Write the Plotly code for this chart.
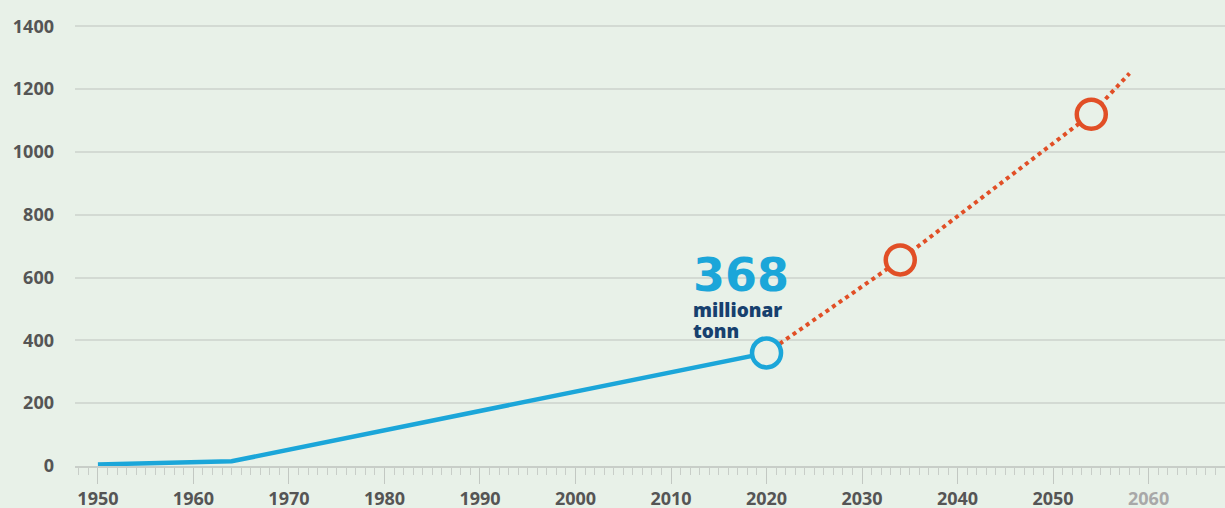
import plotly.graph_objects as go

# Data
blue_years = [1950, 1964, 2020]
blue_values = [5, 15, 360]
orange_years = [2020, 2034, 2054, 2058]
orange_values = [360, 656, 1120, 1250]
highlight_years = [2034, 2054]
highlight_values = [656, 1120]
current_year = [2020]
current_value = [360]
current_label = "368"
unit_lines = ["millionar", "tonn"]

x_ticks = [1950, 1960, 1970, 1980, 1990, 2000, 2010, 2020, 2030, 2040, 2050, 2060]
x_labels = [str(v) for v in x_ticks[:-1]] + ['<span style="color:#a8a8a8">2060</span>']
y_ticks = [0, 200, 400, 600, 800, 1000, 1200, 1400]

BG = "#e8f1e8"
BLUE = "#1ba6d9"
ORANGE = "#e14f26"
NAVY = "#17406e"
FONT = "Open Sans"

fig = go.Figure()
fig.add_trace(go.Scatter(x=orange_years, y=orange_values, mode="lines",
                         line=dict(color=ORANGE, width=4, dash="dot"),
                         hoverinfo="skip", showlegend=False, cliponaxis=False))
fig.add_trace(go.Scatter(x=blue_years, y=blue_values, mode="lines",
                         line=dict(color=BLUE, width=4.5),
                         hoverinfo="skip", showlegend=False, cliponaxis=False))
fig.add_trace(go.Scatter(x=highlight_years, y=highlight_values, mode="markers",
                         marker=dict(size=29, color=BG, line=dict(color=ORANGE, width=4.5)),
                         hoverinfo="skip", showlegend=False, cliponaxis=False))
fig.add_trace(go.Scatter(x=current_year, y=current_value, mode="markers",
                         marker=dict(size=29, color=BG, line=dict(color=BLUE, width=4.5)),
                         hoverinfo="skip", showlegend=False, cliponaxis=False))

fig.add_annotation(x=current_year[0], y=current_value[0], xref="x", yref="y",
                   text="<b>" + current_label + "</b>", showarrow=False,
                   xanchor="left", yanchor="middle", xshift=-76, yshift=78,
                   font=dict(family="DejaVu Sans", size=46, color=BLUE, weight=800))
for i, line_text in enumerate(unit_lines):
    fig.add_annotation(x=current_year[0], y=current_value[0], xref="x", yref="y",
                       text=line_text, showarrow=False, align="left",
                       xanchor="left", yanchor="middle", xshift=-75, yshift=43 - 21 * i,
                       borderpad=0,
                       font=dict(family=FONT, size=19, color=NAVY, weight=800))

fig.update_layout(
    width=1225, height=508,
    margin=dict(l=75, r=0, t=20, b=42, autoexpand=False),
    paper_bgcolor=BG, plot_bgcolor=BG,
    font=dict(family=FONT, color="#555555"),
    xaxis=dict(range=[1947.6, 2068], tickvals=x_ticks, ticktext=x_labels,
               showgrid=False, zeroline=False,
               showline=True, linecolor="#c8cec8", linewidth=1.5,
               ticks="outside", ticklen=16, tickcolor="#c2c8c2", tickwidth=1,
               minor=dict(dtick=1, tick0=1950, ticks="outside", ticklen=7,
                          tickcolor="#c8cec8", tickwidth=1, showgrid=False),
               tickfont=dict(family=FONT, size=18, color="#555555", weight=700),
               ticklabelstandoff=0, fixedrange=True),
    yaxis=dict(range=[0, 1420], tickvals=y_ticks,
               showgrid=True, gridcolor="#d3dad3", gridwidth=1.5,
               zeroline=False, showline=False,
               tickfont=dict(family=FONT, size=18, color="#555555", weight=700),
               ticklabelstandoff=20, fixedrange=True),
)

fig.write_html("out.html", config={"displayModeBar": False},
               post_script="document.body.style.margin='0';document.body.style.overflow='hidden';")
